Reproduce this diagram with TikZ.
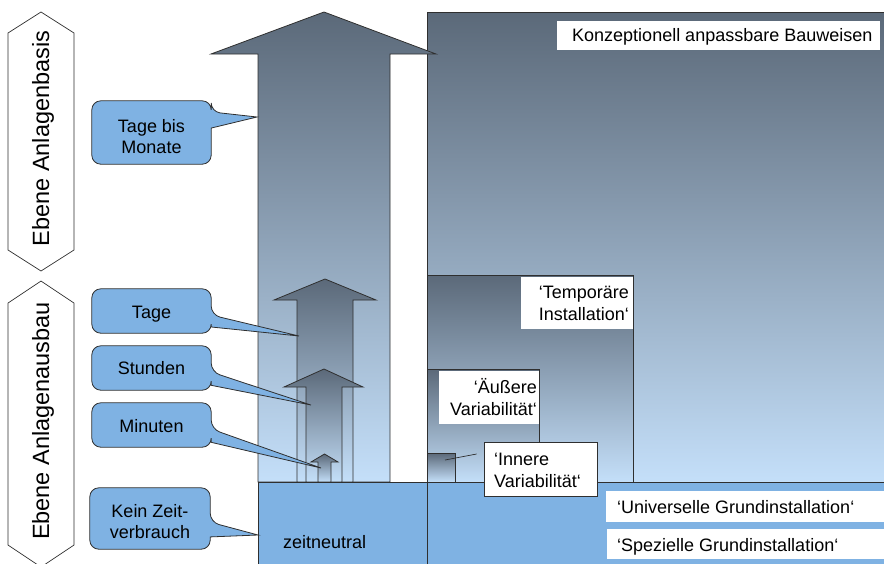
\documentclass[tikz,border=0pt]{standalone}
\usepackage{fontspec}
\setmainfont{Liberation Sans}
\usetikzlibrary{calc}

\definecolor{slate}{HTML}{5B6979}
\definecolor{paleblue}{HTML}{C4DFF9}
\definecolor{baseblue}{HTML}{7FB2E3}
\definecolor{edge}{HTML}{2F2F2F}

\tikzset{
  lbl/.style={font=\fontsize{18}{21.6}\selectfont, inner sep=0pt, text=black},
  levellbl/.style={font=\fontsize{23.5}{28}\selectfont, inner sep=0pt, rotate=90, anchor=base},
  tone/.style={top color=slate, bottom color=paleblue, draw=edge, line width=0.8pt},
  bubble/.style={fill=baseblue, draw=edge, line width=0.8pt},
  bubbleframe/.style={inner sep=0pt, minimum width=119pt},
  hexline/.style={fill=white, draw=edge, line width=0.7pt},
  edgeline/.style={draw=edge, line width=0.8pt},
}

% speech bubble around an empty frame node, pointing at a named coordinate
\newcommand\callbubble[4]{%
  \draw[bubble] (#1.west) [rounded corners=9pt] -- (#1.north west) -- (#1.north east)
    -- ($(#1.north east)!#2!(#1.south east)$) [sharp corners] -- (#4)
    -- ($(#1.north east)!#3!(#1.south east)$) [rounded corners=9pt]
    -- (#1.south east) -- (#1.south west) -- cycle;}

\begin{document}
\begin{tikzpicture}[x=1pt,y=-1pt]
\clip (0,0) rectangle (884,563);

% construction blocks, largest first
\draw[tone] (427,12) rectangle (900,482);
\draw[tone] (427,275) rectangle (633,482);
\draw[tone] (427,369) rectangle (539,482);
\draw[tone] (427,453) rectangle (455,482);

% time arrows
\draw[tone] (258,482) -- (258,54) -- (211,54) -- (324,12) -- (436,54) -- (390,54) -- (390,482) -- cycle;
\draw[tone] (297,482) -- (297,300) -- (274,300) -- (325,279) -- (376,300) -- (353,300) -- (353,482) -- cycle;
\draw[tone] (306,482) -- (306,387) -- (284,387) -- (324,369) -- (363,387) -- (342,387) -- (342,482) -- cycle;
\draw[tone] (318,482) -- (318,462) -- (311,462) -- (324.5,454) -- (338,462) -- (331,462) -- (331,482) -- cycle;

% base installation band
\fill[baseblue] (258,482) rectangle (900,570);
\draw[edgeline] (258,570) -- (258,482) -- (900,482);
\draw[edgeline] (427,482) -- (427,570);
\node[lbl, anchor=base west] (neutral) at (283,548) {zeitneutral};

% level markers
\draw[hexline] (41,12) -- (74,33) -- (74,250) -- (41,271) -- (8,250) -- (8,33) -- cycle;
\node[levellbl] (lvlBasis) at (49,138.5) {Ebene Anlagenbasis};
\draw[hexline] (41,281) -- (74,303) -- (74,545) -- (41,567) -- (8,545) -- (8,303) -- cycle;
\node[levellbl] (lvlAusbau) at (49,421) {Ebene Anlagenausbau};

% pointer targets
\coordinate (tipMonate) at (257,117);
\coordinate (tipTage) at (299,336);
\coordinate (tipStunden) at (311,405);
\coordinate (tipMinuten) at (321,468);
\coordinate (tipKein) at (258,535);

% speech bubbles
\node[bubbleframe, minimum height=63pt] (cMonate) at (151.5,132.5) {};
\callbubble{cMonate}{0.175}{0.43}{tipMonate}
\node[lbl, anchor=base] (tMonateA) at ($(cMonate.center)+(0,-0.5)$) {Tage bis};
\node[lbl, anchor=base] (tMonateB) at ($(cMonate.center)+(0,21)$) {Monate};

\node[bubbleframe, minimum height=44pt] (cTage) at (151.5,311) {};
\callbubble{cTage}{0.59}{0.86}{tipTage}
\node[lbl, anchor=base] (tTage) at ($(cTage.center)+(0,7)$) {Tage};

\node[bubbleframe, minimum height=44pt] (cStunden) at (151.5,368) {};
\callbubble{cStunden}{0.59}{0.89}{tipStunden}
\node[lbl, anchor=base] (tStunden) at ($(cStunden.center)+(0,6)$) {Stunden};

\node[bubbleframe, minimum height=44pt] (cMinuten) at (151.5,425) {};
\callbubble{cMinuten}{0.59}{0.89}{tipMinuten}
\node[lbl, anchor=base] (tMinuten) at ($(cMinuten.center)+(0,7)$) {Minuten};

\node[bubbleframe, minimum width=120pt, minimum height=61pt] (cKein) at (150,518.5) {};
\callbubble{cKein}{0.56}{0.8}{tipKein}
\node[lbl, anchor=base] (tKeinA) at ($(cKein.center)+(0,-1.5)$) {Kein Zeit-};
\node[lbl, anchor=base] (tKeinB) at ($(cKein.center)+(0,19.5)$) {verbrauch};

% block labels
\fill[white] (557,21) rectangle (880,50);
\node[lbl, anchor=base west] (konz) at (572,41) {Konzeptionell anpassbare Bauweisen};

\fill[white] (521,277) rectangle (633,329);
\node[lbl, anchor=base east] (tempA) at (629,298) {‘Temporäre};
\node[lbl, anchor=base east] (tempB) at (629,320) {Installation‘};

\fill[white] (439,371) rectangle (539,424);
\node[lbl, anchor=base east] (outerA) at (537,393) {‘Äußere};
\node[lbl, anchor=base east] (outerB) at (537,415) {Variabilität‘};

\node[draw=edge, fill=white, line width=0.8pt, minimum width=113pt, minimum height=54pt, inner sep=0pt] (innerBox) at (540.5,469) {};
\node[lbl, anchor=base west] (innerA) at (494,465) {‘Innere};
\node[lbl, anchor=base west] (innerB) at (494,487) {Variabilität‘};
\coordinate (innerTip) at (445,460);
\draw[edgeline, line width=0.7pt] (innerTip) -- ($(innerBox.west)+(-7,-15)$);

\fill[white] (606,491) rectangle (890,522);
\node[lbl, anchor=base west] (univ) at (617,513) {‘Universelle Grundinstallation‘};
\fill[white] (607,529) rectangle (890,559);
\node[lbl, anchor=base west] (spez) at (617,551) {‘Spezielle Grundinstallation‘};
\end{tikzpicture}
\end{document}
